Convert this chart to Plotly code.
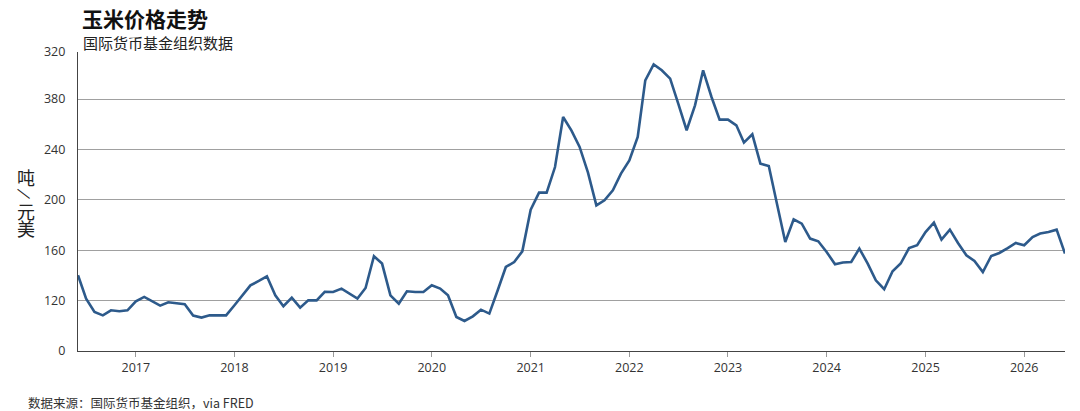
import pandas as pd
import plotly.graph_objects as go

# ---- data ----
start_month = "2016-06-01"
n_months = 121
dates = pd.date_range(start_month, periods=n_months, freq="MS")

prices = [
    140.1, 121.6, 111.0, 108.3, 112.3, 111.5, 112.3, 119.4, 122.9, 119.4,
    116.0, 118.7, 117.6, 117.1, 108.1, 106.5, 108.3, 108.3, 108.3, 116.3,
    124.2, 132.1, 135.6, 139.3, 124.2, 115.5, 122.4, 114.4, 120.2, 120.2,
    127.0, 126.8, 129.5, 125.5, 121.6, 130.0, 155.2, 149.4, 124.2, 117.6,
    127.4, 126.8, 126.8, 132.1, 129.5, 124.2, 107.0, 103.8, 107.5, 112.8,
    109.7, 128.2, 146.7, 150.6, 159.1, 192.2, 205.7, 205.7, 226.0, 265.7,
    254.9, 242.0, 221.6, 195.6, 199.6, 207.5, 220.8, 231.3, 249.9, 294.8,
    307.5, 302.8, 296.2, 276.3, 255.2, 275.0, 302.8, 281.6, 263.6, 263.6,
    259.1, 245.4, 252.0, 228.7, 226.8, 197.0, 166.5, 184.5, 181.1, 169.2,
    167.1, 158.6, 148.8, 150.2, 150.6, 161.3, 149.4, 136.1, 129.0, 143.3,
    149.4, 161.7, 163.9, 174.4, 181.9, 168.4, 176.3, 165.7, 156.0, 151.4,
    142.7, 155.4, 157.8, 161.7, 165.7, 163.9, 170.5, 173.2, 174.4, 176.3,
    157.3,
]

y_tickvals = [80, 120, 160, 200, 240, 280, 317.3]
y_ticktext = ["0", "120", "160", "200", "240", "380", "320"]
x_years = [str(y) for y in range(2017, 2027)]
x_tickvals = [f"{y}-01-01" for y in x_years]

title_text = "玉米价格走势"
subtitle_text = "国际货币基金组织数据"
source_text = "数据来源：国际货币基金组织，via FRED"
ytitle_chars = ["吨", "/", "元", "美"]

# ---- layout geometry ----
W, H = 1080, 411
L, R, T, B = 78.3, 1064.7, 51.7, 350.7
PW, PH = R - L, B - T


def px(xp):
    return (xp - L) / PW


def py(yp):
    return (B - yp) / PH


FONT = "Open Sans, Noto Sans CJK SC, sans-serif"
CJK = "Noto Sans CJK SC, sans-serif"

fig = go.Figure()
fig.add_trace(go.Scatter(
    x=dates, y=prices, mode="lines",
    line=dict(color="#2d5a8b", width=2.6),
    hoverinfo="skip", showlegend=False,
))

annotations = [
    dict(text=f"<b>{title_text}</b>", x=px(80), y=py(18), xanchor="left", yanchor="middle",
         font=dict(family=CJK, size=21, color="#111111")),
    dict(text=subtitle_text, x=px(81), y=py(42), xanchor="left", yanchor="middle",
         font=dict(family=CJK, size=15, color="#222222")),
    dict(text=source_text, x=px(26), y=py(402), xanchor="left", yanchor="middle",
         font=dict(family=CJK, size=12.5, color="#333333")),
]
char_pos = [177, 194, 211, 228]
char_size = [18, 15, 18, 18]
char_angle = [0, 110, 0, 0]
for ch, yp, sz, ang in zip(ytitle_chars, char_pos, char_size, char_angle):
    annotations.append(dict(
        text=ch, x=px(26), y=py(yp), xanchor="center", yanchor="middle",
        textangle=ang,
        font=dict(family=CJK, size=sz, color="#222222"),
    ))
for a in annotations:
    a.update(xref="paper", yref="paper", showarrow=False)

fig.update_layout(
    width=W, height=H,
    margin=dict(l=L, r=W - R, t=T, b=H - B, pad=0),
    paper_bgcolor="white", plot_bgcolor="white",
    font=dict(family=FONT, size=13, color="#333333"),
    annotations=annotations,
    xaxis=dict(
        type="date", range=[dates[0], dates[-1]],
        tickvals=x_tickvals, ticktext=x_years,
        ticks="outside", ticklen=5, tickcolor="#999999",
        showgrid=False, zeroline=False,
        showline=True, linecolor="#444444", linewidth=1.2, mirror=False,
        tickfont=dict(size=12.5, color="#333333"),
    ),
    xaxis2=dict(overlaying="x", side="top", showline=True, linecolor="#888888",
                showticklabels=False, showgrid=False, ticks="", zeroline=False),
    yaxis=dict(
        range=[80, 317.3], tickvals=y_tickvals, ticktext=y_ticktext,
        ticks="", showgrid=True, gridcolor="#a0a0a0", gridwidth=1,
        zeroline=False, showline=True, linecolor="#444444", linewidth=1.2,
        ticklabelstandoff=9,
        tickfont=dict(size=12.5, color="#333333"),
    ),
    yaxis2=dict(overlaying="y", side="right", showline=True, linecolor="#888888",
                showticklabels=False, showgrid=False, ticks="", zeroline=False,
                range=[80, 317.3]),
)

fig.write_html(
    "out.html",
    config={"displayModeBar": False},
    post_script="document.body.style.margin='0';document.body.style.overflow='hidden';",
)
